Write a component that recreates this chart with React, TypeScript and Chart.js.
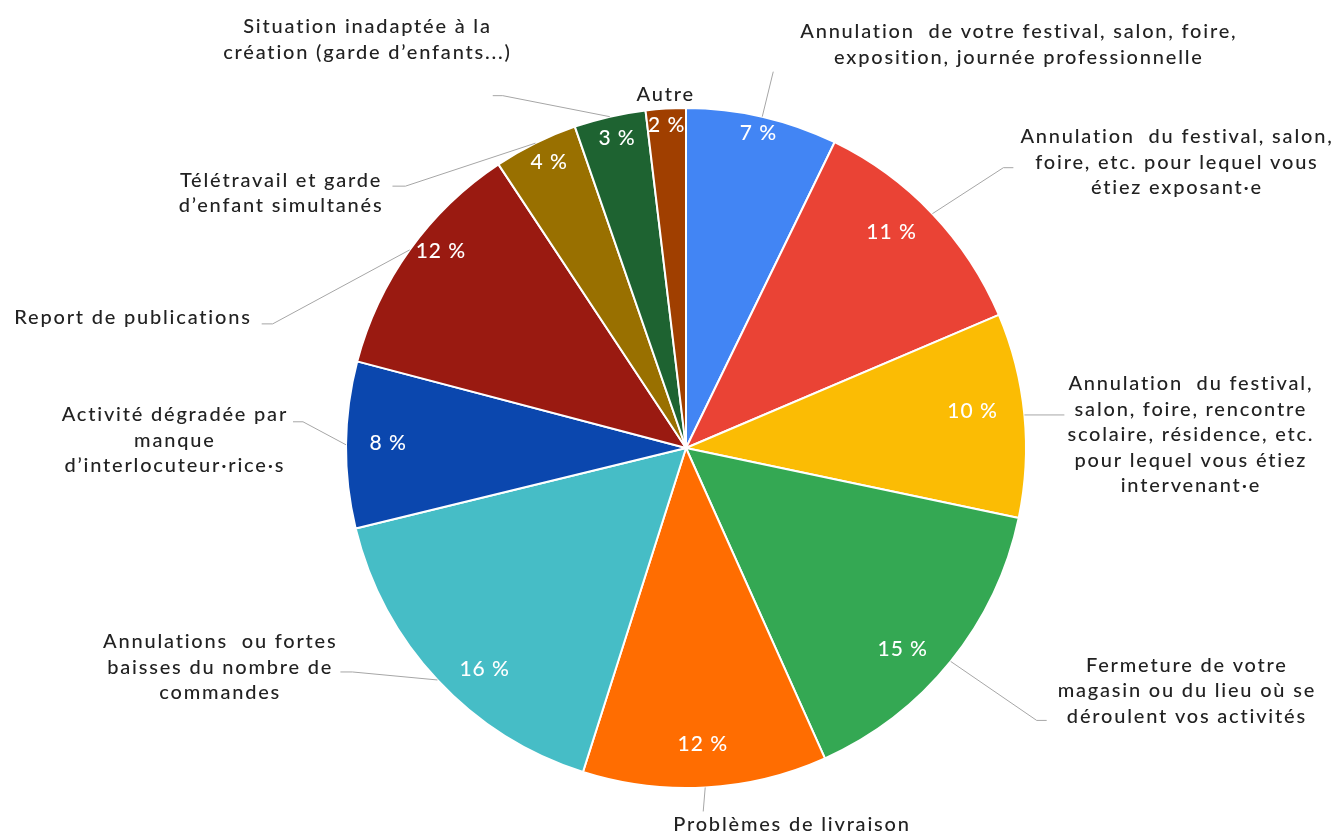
import React, { useEffect, useRef } from "react";
import { Chart, registerables } from "chart.js";

Chart.register(...registerables);

// ---------- data ----------
const categories: string[][] = [
  ["Annulation  de votre festival, salon, foire,", "exposition, journée professionnelle"],
  ["Annulation  du festival, salon,", "foire, etc. pour lequel vous", "étiez exposant·e"],
  ["Annulation  du festival,", "salon, foire, rencontre", "scolaire, résidence, etc.", "pour lequel vous étiez", "intervenant·e"],
  ["Fermeture de votre", "magasin ou du lieu où se", "déroulent vos activités"],
  ["Problèmes de livraison"],
  ["Annulations  ou fortes", "baisses du nombre de", "commandes"],
  ["Activité dégradée par", "manque", "d’interlocuteur·rice·s"],
  ["Report de publications"],
  ["Télétravail et garde", "d’enfant simultanés"],
  ["Situation inadaptée à la", "création (garde d’enfants...)"],
  ["Autre"],
];

const shares: number[] = [7.2, 11.4, 9.7, 15.0, 11.6, 16.3, 7.9, 11.6, 4.0, 3.4, 1.9];

const percentLabels: string[] = ["7 %", "11 %", "10 %", "15 %", "12 %", "16 %", "8 %", "12 %", "4 %", "3 %", "2 %"];

const sliceColors: string[] = [
  "#4285F4", "#EA4335", "#FBBC04", "#34A853", "#FF6D01", "#46BDC6",
  "#0B47AE", "#9A1A11", "#997000", "#1E6331", "#A03F00",
];

// ---------- label layout (offsets relative to each slice's outer mid-point) ----------
type Align = "left" | "right" | "center";
interface LeaderLayout { elbow: [number, number] | null; tail: number; text: [number, number]; align: Align; }
const leaderLayout: LeaderLayout[] = [
  { elbow: [11, -45], tail: 0, text: [38, -85], align: "left" },
  { elbow: [71, -46], tail: 10, text: [88, -77], align: "left" },
  { elbow: [0, 0], tail: 40, text: [43, -31], align: "left" },
  { elbow: [86, 59], tail: 10, text: [107, 4], align: "left" },
  { elbow: [-2, 24], tail: 0, text: [-32, 37], align: "left" },
  { elbow: [-85, -8], tail: -12, text: [-100, -38], align: "right" },
  { elbow: [-43, -23], tail: -10, text: [-58, -30], align: "right" },
  { elbow: [-137, 74], tail: -11, text: [-158, 68], align: "right" },
  { elbow: [-130, 43], tail: -13, text: [-152, 37], align: "right" },
  { elbow: [-107, -21], tail: -10, text: [-98, -90], align: "right" },
  { elbow: null, tail: 0, text: [0, -14], align: "center" },
];

// [angle shift in degrees, radius fraction]
const pctLayout: [number, number][] = [
  [0, 0.95], [-2.8, 0.876], [-1.8, 0.85], [4, 0.87], [0, 0.874], [-4.7, 0.88],
  [0.3, 0.876], [3.1, 0.924], [0.7, 0.932], [0.4, 0.932], [0, 0.95],
];

const TEXT_FONT = "500 20px Lato";
const PCT_FONT = "500 21px Lato";
const TEXT_SPACING = "1.8px";
const PCT_SPACING = "1px";
const LINE_H = 25.5;

const outsideLabels = {
  id: "outsideLabels",
  afterDatasetsDraw(chart: any) {
    const ctx: any = chart.ctx;
    const meta = chart.getDatasetMeta(0);
    ctx.save();
    meta.data.forEach((arc: any, i: number) => {
      const { x, y, startAngle, endAngle, outerRadius } = arc.getProps(
        ["x", "y", "startAngle", "endAngle", "outerRadius"], true);
      const mid = (startAngle + endAngle) / 2;
      const ex = x + Math.cos(mid) * outerRadius;
      const ey = y + Math.sin(mid) * outerRadius;

      // percentage inside the slice
      const [dA, rf] = pctLayout[i];
      const a = mid + (dA * Math.PI) / 180;
      ctx.font = PCT_FONT;
      ctx.letterSpacing = PCT_SPACING;
      ctx.fillStyle = "#ffffff";
      ctx.textAlign = "center";
      ctx.textBaseline = "middle";
      ctx.fillText(percentLabels[i], x + Math.cos(a) * outerRadius * rf, y + Math.sin(a) * outerRadius * rf);

      // leader line
      const L = leaderLayout[i];
      if (L.elbow) {
        const bx = ex + L.elbow[0];
        const by = ey + L.elbow[1];
        ctx.strokeStyle = "#a6a6a6";
        ctx.lineWidth = 1;
        ctx.beginPath();
        ctx.moveTo(ex, ey);
        ctx.lineTo(bx, by);
        if (L.tail) ctx.lineTo(bx + L.tail, by);
        ctx.stroke();
      }

      // category text block
      const lines = categories[i];
      ctx.font = TEXT_FONT;
      ctx.letterSpacing = TEXT_SPACING;
      ctx.fillStyle = "#222222";
      ctx.textAlign = "center";
      ctx.textBaseline = "middle";
      const w = Math.max(...lines.map((s) => ctx.measureText(s).width));
      const ax = ex + L.text[0];
      const ay = ey + L.text[1];
      let cx = ax;
      if (L.align === "left") cx = ax + w / 2;
      else if (L.align === "right") cx = ax - w / 2;
      lines.forEach((s, k) => ctx.fillText(s, cx, ay + k * LINE_H));
    });
    ctx.restore();
  },
};

export default function App() {
  const ref = useRef<HTMLCanvasElement | null>(null);
  useEffect(() => {
    if (!ref.current) return;
    const chart = new Chart(ref.current, {
      type: "pie",
      data: {
        labels: categories.map((l) => l.join(" ")),
        datasets: [
          {
            data: shares,
            backgroundColor: sliceColors,
            borderColor: "#ffffff",
            borderWidth: 2,
          },
        ],
      },
      options: {
        responsive: false,
        animation: false,
        layout: { padding: { left: 40, right: 0, top: 107, bottom: 48 } },
        plugins: {
          legend: { display: false },
          tooltip: { enabled: false },
        },
      },
      plugins: [outsideLabels],
    });
    return () => chart.destroy();
  }, []);
  return (
    <div style={{ position: "fixed", left: 0, top: 0, width: 1332, height: 837, background: "#ffffff" }}>
      <canvas ref={ref} width={1332} height={837} style={{ display: "block" }} />
    </div>
  );
}
